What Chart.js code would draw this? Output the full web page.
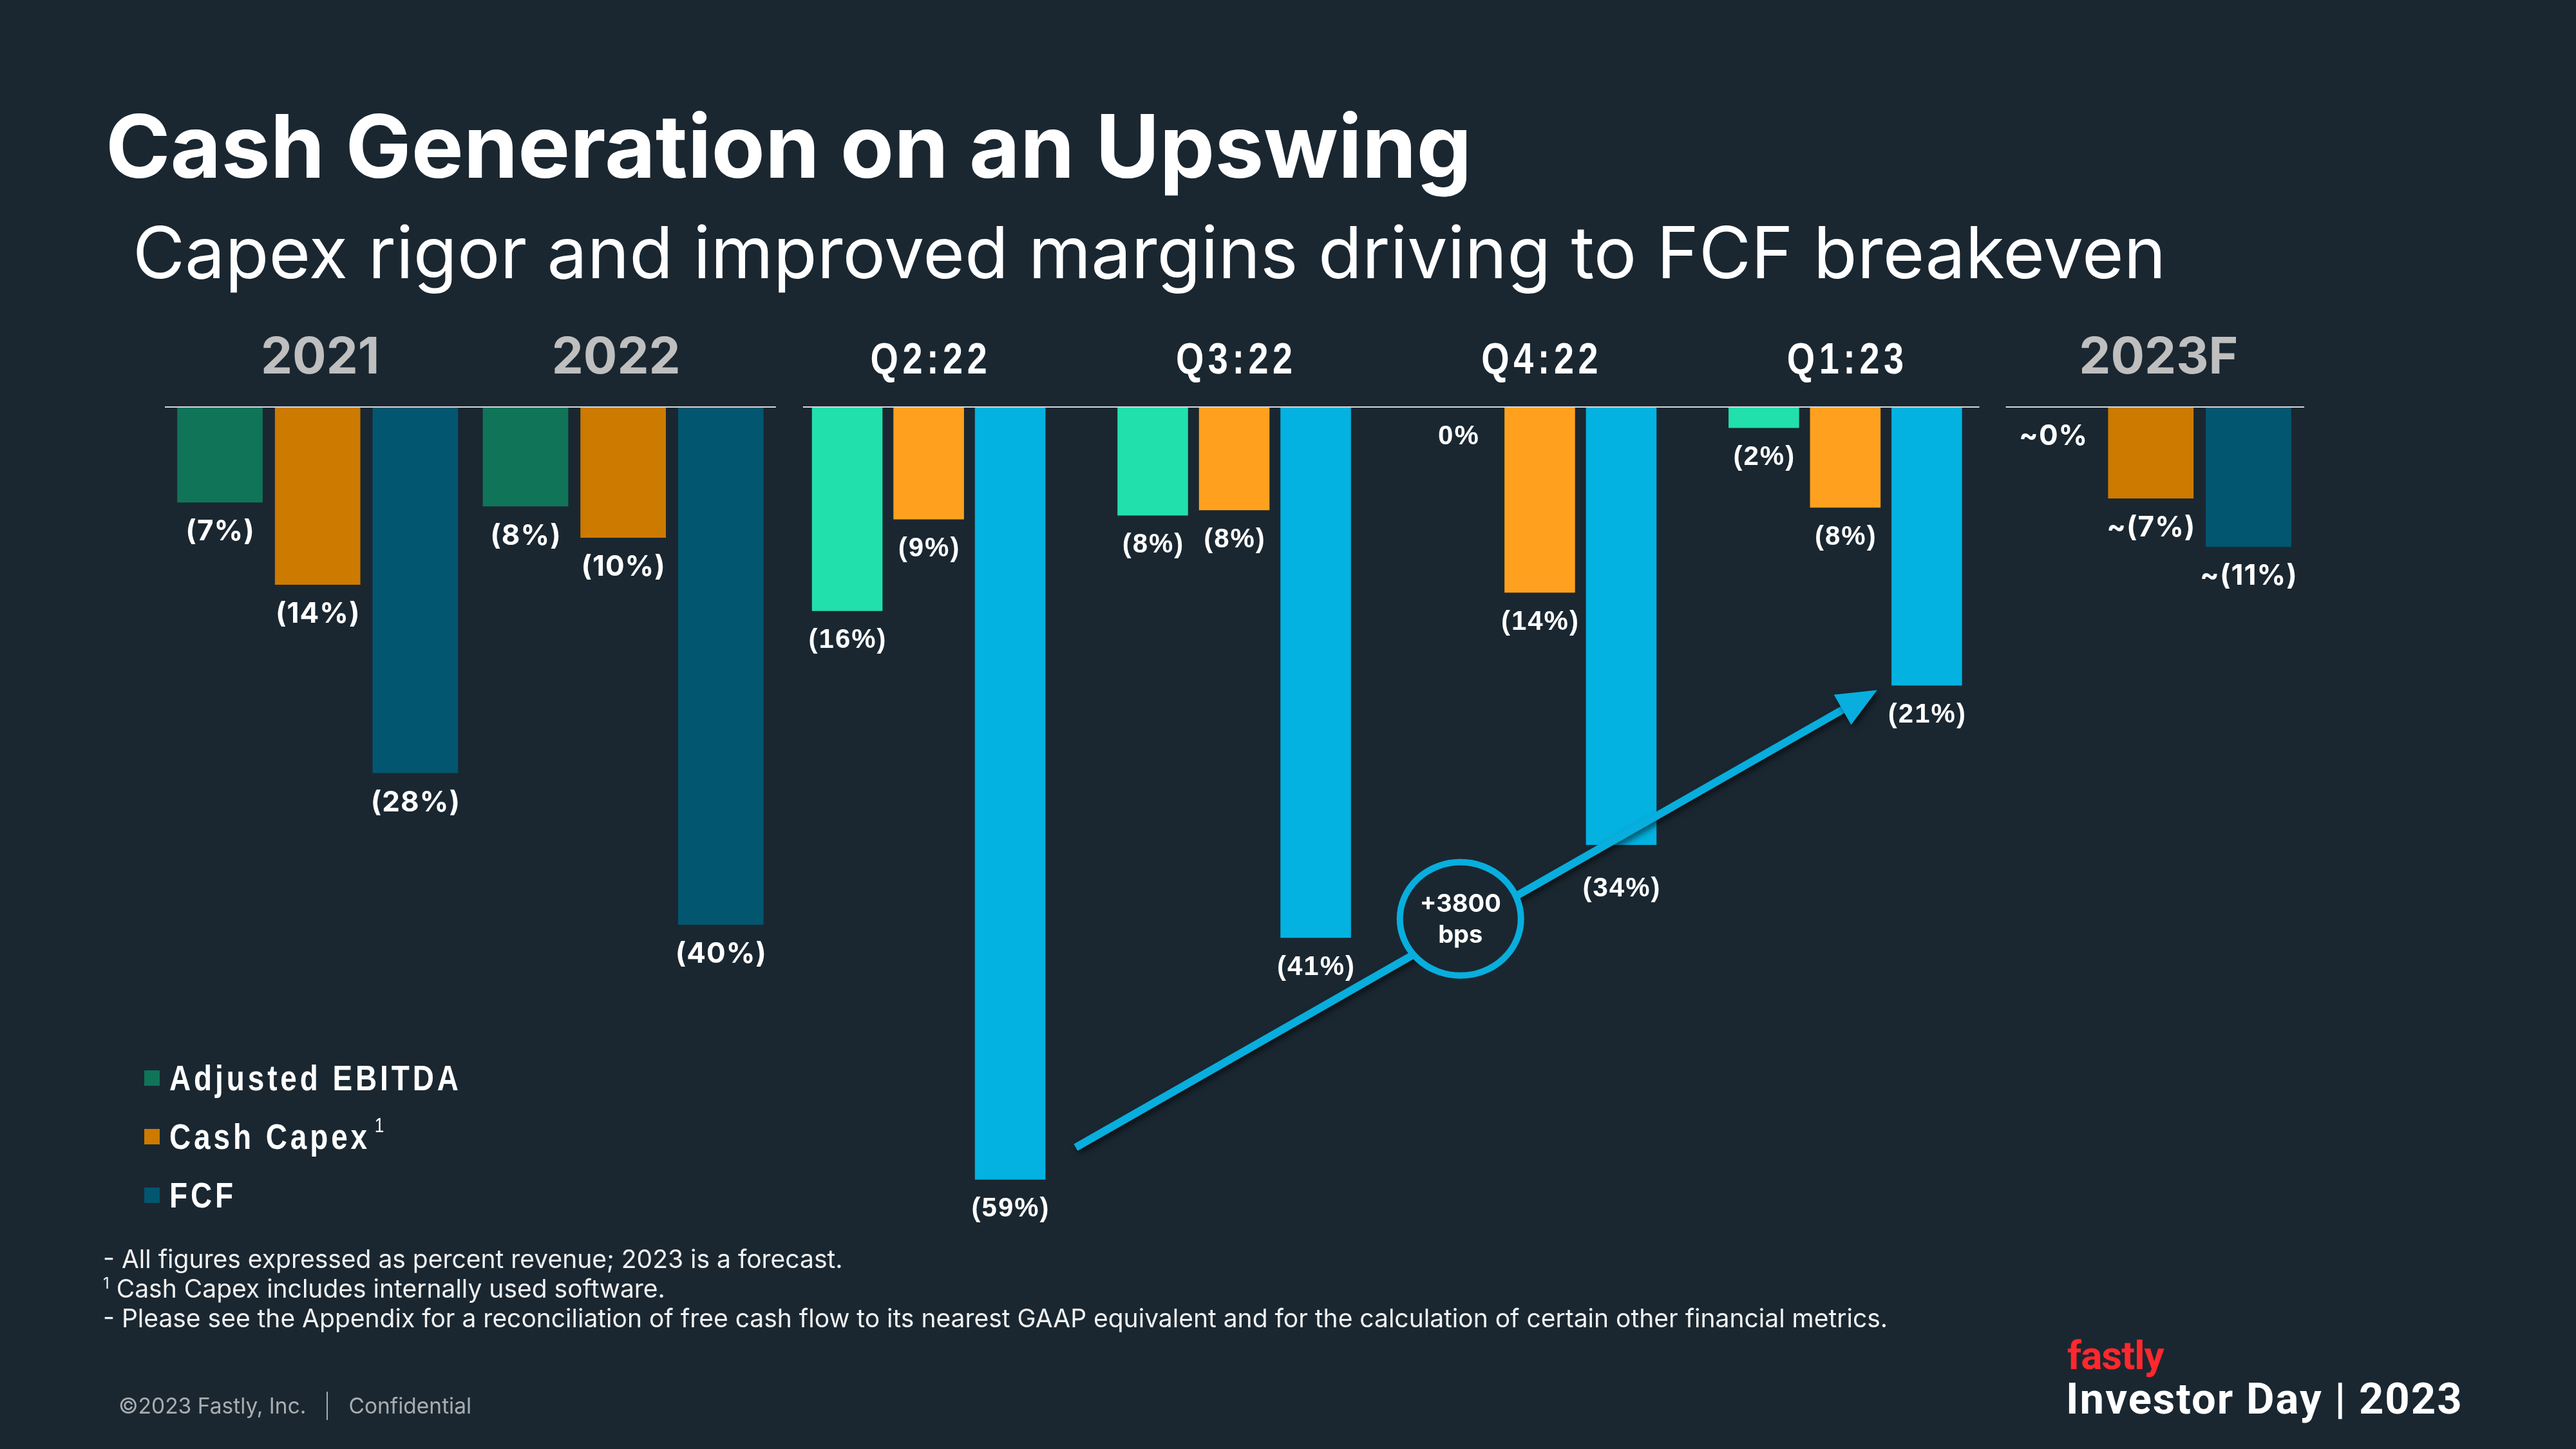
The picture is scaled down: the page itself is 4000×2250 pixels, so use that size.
<!DOCTYPE html>
<html>
<head>
<meta charset="utf-8">
<script src="https://cdn.jsdelivr.net/npm/chart.js@4.4.1/dist/chart.umd.min.js"></script>
<style>
  html, body { margin: 0; padding: 0; background: #1a2731; }
  #wrap { position: relative; width: 4000px; height: 2250px; overflow: hidden; background: #1a2731; }
  #c { position: absolute; left: 0; top: 0; width: 4000px; height: 2250px; }
  .t { position: absolute; white-space: nowrap; color: #ffffff; }
  #title { left: 164px; top: 159px; font: 700 136px/136px Inter, Roboto, sans-serif; }
  #subtitle { left: 206px; top: 336px; font: 400 111px/111px Inter, Roboto, sans-serif; }
  #notes { left: 160px; top: 1932px; font: 400 39px/46px Inter, Roboto, sans-serif; color: #f2f2f2; }
  #notes sup { font-size: 24px; vertical-align: 14px; line-height: 0; }
  #legend { position: absolute; left: 224px; top: 1628px; }
  .li { height: 91px; display: flex; align-items: center; }
  .sw { width: 24px; height: 24px; margin-right: 15px; flex: none; }
  .lt { display: inline-block; transform: scaleX(0.82); transform-origin: 0 50%; font: 700 56px "Liberation Sans", Arial, sans-serif; letter-spacing: 6px; color: #fff; }
  .lt sup { font-weight: 400; font-size: 32px; vertical-align: 26px; line-height: 0; letter-spacing: 0; margin-left: 8px; }
  #footer { left: 184px; top: 2161px; font: 400 33.5px/40px Inter, Roboto, sans-serif; color: #a9adb0; }
  #footer .sep { display: inline-block; width: 2px; height: 44px; background: #a9adb0; vertical-align: -10px; margin: 0 32px 0 32px; }
  #logo { left: 3210px; top: 2070px; font: 700 62px/70px Roboto, sans-serif; color: #ff282d; letter-spacing: -1px; }
  #event { left: 3208px; top: 2136px; font: 700 67px/72px Roboto, sans-serif; color: #ffffff; letter-spacing: 2px; }
</style>
</head>
<body>
<div id="wrap">
  <canvas id="c" width="4000" height="2250"></canvas>
  <div class="t" id="title">Cash Generation on an Upswing</div>
  <div class="t" id="subtitle">Capex rigor and improved margins driving to FCF breakeven</div>
  <div id="legend"></div>
  <div class="t" id="notes">- All figures expressed as percent revenue; 2023 is a forecast.<br><sup>1</sup> Cash Capex includes internally used software.<br>- Please see the Appendix for a reconciliation of free cash flow to its nearest GAAP equivalent and for the calculation of certain other financial metrics.</div>
  <div class="t" id="footer">©2023 Fastly, Inc.<span class="sep"></span>Confidential</div>
  <div class="t" id="logo">fastly</div>
  <div class="t" id="event">Investor Day | 2023</div>
</div>
<script>
// ---------------- DATA ----------------
const categories = ['2021', '2022', 'Q2:22', 'Q3:22', 'Q4:22', 'Q1:23', '2023F'];
const periodKind = ['annual', 'annual', 'quarter', 'quarter', 'quarter', 'quarter', 'annual'];
const seriesNames = ['Adjusted EBITDA', 'Cash Capex', 'FCF'];
const seriesNotes = ['', '1', ''];

// percent of revenue (negative = outflow / loss)
const ebitda = [-7.3, -7.6, -15.6, -8.3, 0, -1.6, 0];
const capex  = [-13.6, -10.0, -8.6, -7.9, -14.2, -7.7, -7.0];
const fcf    = [-28.0, -39.6, -59.1, -40.6, -33.5, -21.3, -10.7];

// printed value labels
const ebitdaLabels = ['(7%)', '(8%)', '(16%)', '(8%)', '0%', '(2%)', '~0%'];
const capexLabels  = ['(14%)', '(10%)', '(9%)', '(8%)', '(14%)', '(8%)', '~(7%)'];
const fcfLabels    = ['(28%)', '(40%)', '(59%)', '(41%)', '(34%)', '(21%)', '~(11%)'];

// annotation
const improvementText = ['+3800', 'bps'];
const arrowFrom = 'Q2:22';
const arrowTo = 'Q1:23';

// ---------------- STYLE ----------------
const annualColors  = ['#107459', '#CC7A00', '#03566F'];
const quarterColors = ['#22E0AC', '#FFA11F', '#03B2E0'];
const bg = '#1a2731';
const headerNudge = [4, -11, 0, 0, 0, 0, 12];   // px shifts of the period headers
const labelGap = 46;                              // px from bar end to label centre
const labelNudge = { 'FCF|Q4:22': 22 };           // keeps label clear of the arrow

// legend (HTML)
const legendEl = document.getElementById('legend');
seriesNames.forEach((n, s) => {
  const row = document.createElement('div');
  row.className = 'li';
  const sw = document.createElement('span');
  sw.className = 'sw';
  sw.style.background = annualColors[s];
  const tx = document.createElement('span');
  tx.className = 'lt';
  tx.textContent = n;
  if (seriesNotes[s]) {
    const sp = document.createElement('sup');
    sp.textContent = seriesNotes[s];
    tx.appendChild(sp);
  }
  row.appendChild(sw);
  row.appendChild(tx);
  legendEl.appendChild(row);
});

// datasets: one per series per period kind (annual vs quarterly bars differ in width & colour)
const values = [ebitda, capex, fcf];
const labelSets = [ebitdaLabels, capexLabels, fcfLabels];
const datasets = [];
['annual', 'quarter'].forEach(kind => {
  values.forEach((vals, s) => {
    datasets.push({
      label: seriesNames[s],
      kind: kind,
      data: vals.map((v, i) => periodKind[i] === kind ? v : null),
      valueLabels: labelSets[s].map((t, i) => periodKind[i] === kind ? t : null),
      backgroundColor: kind === 'annual' ? annualColors[s] : quarterColors[s],
      borderWidth: 0,
      categoryPercentage: kind === 'annual' ? 0.959 : 0.80,
      barPercentage: kind === 'annual' ? 0.875 : 0.866,
      skipNull: true
    });
  });
});

const segments = [
  { from: 0, to: 1, l: 0, r: 0 },
  { from: 2, to: 5, l: 42, r: -29 },
  { from: 6, to: 6, l: 12, r: 1 }
];

const axisSegments = {
  id: 'axisSegments',
  afterDatasetsDraw(chart) {
    const { ctx, scales: { x, y } } = chart;
    const half = (x.getPixelForValue(1) - x.getPixelForValue(0)) / 2;
    const y0 = Math.round(y.getPixelForValue(0));
    ctx.save();
    ctx.strokeStyle = '#D4D8DB';
    ctx.lineWidth = 2;
    segments.forEach(sg => {
      ctx.beginPath();
      ctx.moveTo(x.getPixelForValue(sg.from) - half + sg.l, y0);
      ctx.lineTo(x.getPixelForValue(sg.to) + half + sg.r, y0);
      ctx.stroke();
    });
    ctx.restore();
  }
};

const headers = {
  id: 'headers',
  afterDraw(chart) {
    const { ctx, scales: { x } } = chart;
    categories.forEach((c, i) => {
      const px = x.getPixelForValue(i) + headerNudge[i];
      ctx.save();
      ctx.textAlign = 'center';
      ctx.textBaseline = 'alphabetic';
      if (periodKind[i] === 'quarter') {
        ctx.font = '700 68px "Liberation Sans", Arial, sans-serif';
        ctx.fillStyle = '#ffffff';
        const ls = 8;
        if ('letterSpacing' in ctx) ctx.letterSpacing = ls + 'px';
        ctx.translate(px, 580);
        ctx.scale(0.82, 1);
        ctx.fillText(c, ls / 2, 0);
      } else {
        ctx.font = '700 78px Inter, Roboto, sans-serif';
        ctx.fillStyle = '#BFBFBF';
        ctx.fillText(c, px, 580);
      }
      ctx.restore();
    });
  }
};

const valueLabels = {
  id: 'valueLabels',
  afterDatasetsDraw(chart) {
    const { ctx } = chart;
    ctx.save();
    ctx.textAlign = 'center';
    ctx.textBaseline = 'middle';
    ctx.fillStyle = '#ffffff';
    chart.data.datasets.forEach((ds, di) => {
      const meta = chart.getDatasetMeta(di);
      meta.data.forEach((el, i) => {
        const t = ds.valueLabels[i];
        if (t == null) return;
        let ls = 0;
        if (ds.kind === 'quarter') {
          ctx.font = '700 42px "Liberation Sans", Arial, sans-serif';
          ls = 2;
        } else {
          ctx.font = '700 44px Inter, Roboto, sans-serif';
          ls = 1;
        }
        if ('letterSpacing' in ctx) ctx.letterSpacing = ls + 'px';
        const extra = labelNudge[ds.label + '|' + categories[i]] || 0;
        ctx.fillText(t, el.x + ls / 2, el.y + labelGap + extra);
      });
    });
    if ('letterSpacing' in ctx) ctx.letterSpacing = '0px';
    ctx.restore();
  }
};

const improvementArrow = {
  id: 'improvementArrow',
  afterDatasetsDraw(chart) {
    const { ctx } = chart;
    const fcfQ = chart.getDatasetMeta(5);
    const a = fcfQ.data[categories.indexOf(arrowFrom)];
    const b = fcfQ.data[categories.indexOf(arrowTo)];
    const sx = a.x + a.width / 2 + 47, sy = a.y - 50;
    const ex = b.x - 77, ey = b.y + 7;
    const ang = Math.atan2(ey - sy, ex - sx);
    const headLen = 62, headHalf = 27;
    const bx = ex - headLen * Math.cos(ang), by = ey - headLen * Math.sin(ang);
    const col = '#08AEDD';
    ctx.save();
    ctx.shadowColor = 'rgba(0,0,0,0.55)';
    ctx.shadowBlur = 10;
    ctx.shadowOffsetX = 4;
    ctx.shadowOffsetY = 5;
    ctx.strokeStyle = col;
    ctx.lineWidth = 12;
    ctx.beginPath();
    ctx.moveTo(sx, sy);
    ctx.lineTo(bx + 4 * Math.cos(ang), by + 4 * Math.sin(ang));
    ctx.stroke();
    ctx.fillStyle = col;
    ctx.beginPath();
    ctx.moveTo(ex, ey);
    ctx.lineTo(bx + headHalf * Math.sin(ang), by - headHalf * Math.cos(ang));
    ctx.lineTo(bx - headHalf * Math.sin(ang), by + headHalf * Math.cos(ang));
    ctx.closePath();
    ctx.fill();
    // circle badge
    const t = 0.48;
    const cx = sx + (ex - sx) * t, cy = sy + (ey - sy) * t - 14;
    ctx.shadowColor = 'rgba(0,0,0,0)';
    ctx.fillStyle = bg;
    ctx.strokeStyle = col;
    ctx.lineWidth = 10;
    ctx.beginPath();
    ctx.ellipse(cx, cy, 94, 88, 0, 0, Math.PI * 2);
    ctx.fill();
    ctx.stroke();
    ctx.fillStyle = '#ffffff';
    ctx.textAlign = 'center';
    ctx.textBaseline = 'middle';
    ctx.font = '700 38px Inter, Roboto, sans-serif';
    ctx.fillText(improvementText[0], cx, cy - 22);
    ctx.fillText(improvementText[1], cx, cy + 26);
    ctx.restore();
  }
};

new Chart(document.getElementById('c'), {
  type: 'bar',
  data: { labels: categories, datasets: datasets },
  options: {
    responsive: false,
    animation: false,
    devicePixelRatio: 1,
    layout: { padding: { left: 256, right: 423, top: 632, bottom: 197 } },
    plugins: { legend: { display: false }, tooltip: { enabled: false }, title: { display: false } },
    scales: {
      x: { display: false, offset: true },
      y: { display: false, min: -70, max: 0 }
    }
  },
  plugins: [axisSegments, valueLabels, improvementArrow, headers]
});
</script>
</body>
</html>
